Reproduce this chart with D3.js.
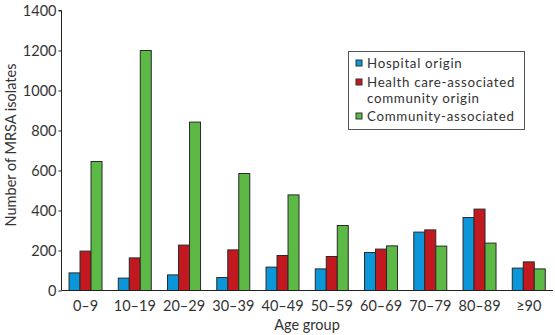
<!DOCTYPE html>
<html><head><meta charset="utf-8">
<script src="https://cdn.jsdelivr.net/npm/d3@7"></script>
<style>
body{margin:0;background:#fff;}
text{font-family:Lato,"Open Sans",sans-serif;fill:#333;}
</style></head>
<body><svg id="c" width="555" height="335"></svg>
<script>
const categories = ["0–9","10–19","20–29","30–39","40–49","50–59","60–69","70–79","80–89","≥90"];
const seriesNames = ["Hospital origin","Health care-associated community origin","Community-associated"];
const hospital = [88, 62, 78, 65, 117, 108, 190, 292, 365, 112];
const hcaCommunity = [197, 163, 227, 203, 175, 170, 207, 303, 407, 143];
const communityAssoc = [645, 1200, 842, 585, 478, 325, 223, 222, 237, 108];
const yTicks = [0, 200, 400, 600, 800, 1000, 1200, 1400];
const colors = ["#0a96d8", "#c1191f", "#5cb946"];

const series = [hospital, hcaCommunity, communityAssoc];
const svg = d3.select("#c");
const x = d3.scaleBand().domain(categories).range([60.9, 553.4]).paddingInner(0.33).paddingOuter(0.165);
const xs = d3.scaleBand().domain([0,1,2]).range([0, x.bandwidth()]);
const y = d3.scaleLinear().domain([0, 1400]).range([290.5, 10.5]);
const FONT = "Lato,'Open Sans',sans-serif";

// bars
const g = svg.append("g");
categories.forEach((c, i) => {
  series.forEach((s, k) => {
    g.append("rect")
      .attr("x", x(c) + xs(k))
      .attr("y", y(s[i]))
      .attr("width", xs.bandwidth())
      .attr("height", y(0) - y(s[i]))
      .attr("fill", colors[k])
      .attr("stroke", "#2a2a2a")
      .attr("stroke-width", 1);
  });
});

// y axis
const ya = svg.append("g").attr("transform", "translate(61.5,0)")
  .call(d3.axisLeft(y).tickValues(yTicks).tickSize(3).tickPadding(2).tickFormat(d3.format("d")));
ya.select(".domain").attr("stroke", "#222").attr("d", `M-3,${y(1400)}H0V${y(0)}`);
ya.selectAll(".tick line").attr("stroke", "#222");
ya.selectAll("text").style("font-size", "14.5px").attr("fill", "#333").style("font-family", FONT);

// x baseline and labels
svg.append("line").attr("x1", 61.5).attr("x2", 553).attr("y1", y(0)).attr("y2", y(0)).attr("stroke", "#222");
const xa = svg.append("g").attr("transform", `translate(0,${y(0)})`)
  .call(d3.axisBottom(x).tickSize(0).tickPadding(10));
xa.select(".domain").remove();
xa.selectAll("text").style("font-size", "14.5px").attr("fill", "#333").style("font-family", FONT);

// axis titles
svg.append("text").attr("x", 307).attr("y", 330).attr("text-anchor", "middle").style("font-size", "14.5px").text("Age group");
svg.append("text").attr("transform", "translate(16,145) rotate(-90)").attr("text-anchor", "middle").style("font-size", "14.5px").text("Number of MRSA isolates");

// legend
const lg = svg.append("g");
lg.append("rect").attr("x", 348.5).attr("y", 51.5).attr("width", 176).attr("height", 78).attr("fill", "#fff").attr("stroke", "#555");
const rows = [{k:0, lines:["Hospital origin"], y:63}, {k:1, lines:["Health care-associated","community origin"], y:82}, {k:2, lines:["Community-associated"], y:116}];
rows.forEach(r => {
  lg.append("rect").attr("x", 356).attr("y", r.y - 3).attr("width", 6).attr("height", 6)
    .attr("fill", colors[r.k]).attr("stroke", "#333").attr("stroke-width", 1);
  r.lines.forEach((t, j) => {
    lg.append("text").attr("x", 367).attr("y", r.y + 5 + j * 16).style("font-size", "13.3px")
      .style("letter-spacing", "0.7px").text(t);
  });
});
</script></body></html>
